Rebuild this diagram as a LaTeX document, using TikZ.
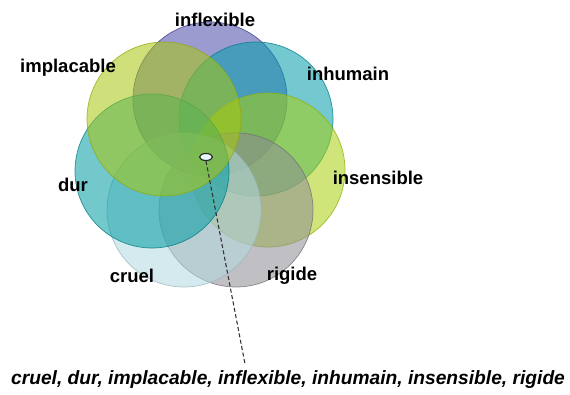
\documentclass[tikz,border=0pt]{standalone}
\usepackage{fontspec}
\setmainfont{Liberation Sans}
\usetikzlibrary{shapes.geometric}
\begin{document}
\begin{tikzpicture}[x=1pt,y=-1pt,
  ring/.style={circle, minimum size=154pt, inner sep=0pt, fill opacity=0.55, draw opacity=0.8, line width=0.7pt},
  lbl/.style={font=\bfseries\fontsize{18.5}{20}\selectfont, inner sep=0pt},
  leader/.style={dash pattern=on 4pt off 2.5pt, line width=1.1pt, black!80}]
\useasboundingbox (0,0) rectangle (570,395);
\definecolor{cInfl}{RGB}{73,73,170}
\definecolor{cInhu}{RGB}{2,155,170}
\definecolor{cImpl}{RGB}{168,199,13}
\definecolor{cInse}{RGB}{168,208,13}
\definecolor{cDur}{RGB}{0,155,162}
\definecolor{cCrue}{RGB}{179,217,224}
\definecolor{cRigi}{RGB}{140,140,148}
\node[ring, fill=cInfl, draw=cInfl!80!black] (infl) at (210,99) {};
\node[ring, fill=cInhu, draw=cInhu!80!black] (inhu) at (256,119) {};
\node[ring, fill=cInse, draw=cInse!85!black] (inse) at (268,170) {};
\node[ring, fill=cRigi, draw=cRigi!80!black] (rigi) at (236,210) {};
\node[ring, fill=cCrue, draw=cCrue!85!black] (crue) at (184,210) {};
\node[ring, fill=cDur, draw=cDur!80!black] (dur) at (152,171) {};
\node[ring, fill=cImpl, draw=cImpl!85!black] (impl) at (164,119) {};
\node[lbl] (linfl) at (215,20) {inflexible};
\node[lbl] (limpl) at (68,68) {implacable};
\node[lbl] (linhu) at (348,74) {inhumain};
\node[lbl] (linse) at (378,178) {insensible};
\node[lbl] (ldur) at (73,185) {dur};
\node[lbl] (lcrue) at (132,276) {cruel};
\node[lbl] (lrigi) at (292,276) {rigide};
\node[draw=black!85, line width=1.1pt, fill=white!90!cyan, ellipse, minimum width=13pt, minimum height=7pt, inner sep=0pt] (dot) at (206,157) {};
\node[font=\bfseries\itshape\fontsize{19.2}{21}\selectfont, inner sep=1pt] (sum) at (288,380) {cruel, dur, implacable, inflexible, inhumain, insensible, rigide};
\coordinate (lend) at (245,364);
\draw[leader] (dot.south) -- (lend);
\end{tikzpicture}
\end{document}
